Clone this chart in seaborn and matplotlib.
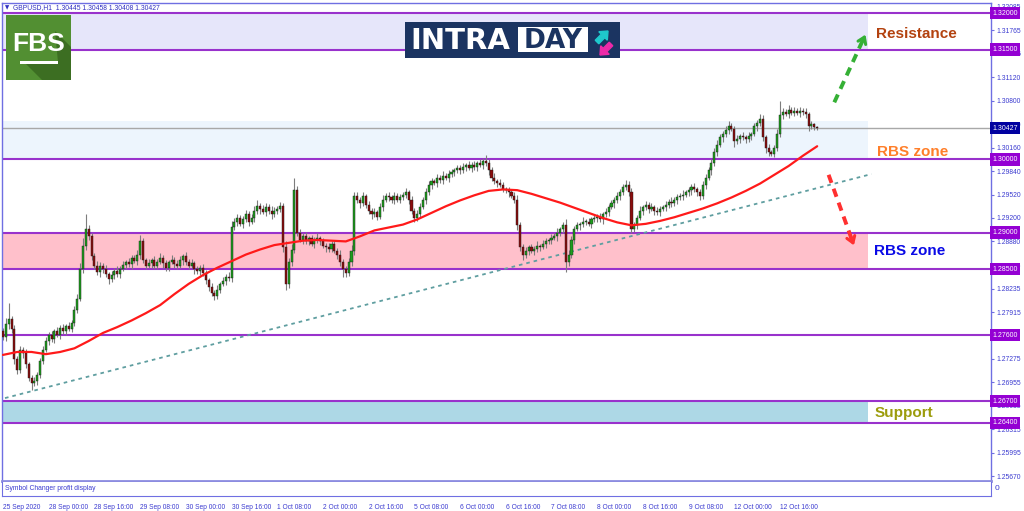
import matplotlib
matplotlib.use("Agg")
import matplotlib.pyplot as plt
import matplotlib.transforms as mtransforms
from matplotlib.patches import Rectangle, Polygon, FancyArrow
import numpy as np
import seaborn as sns

# ---- data (prices in pips, 1 pip = 0.0001) ----
first_open = 12765
close_pips = [
    12757, 12775, 12782, 12768, 12728, 12712, 12740, 12735, 12720, 12702,
    12695, 12698, 12706, 12725, 12740, 12752, 12760, 12755, 12765, 12760,
    12770, 12766, 12772, 12769, 12776, 12795, 12810, 12850, 12882, 12905,
    12895, 12868, 12855, 12846, 12855, 12850, 12843, 12836, 12842, 12848,
    12844, 12850, 12856, 12860, 12857, 12865, 12861, 12870, 12888, 12862,
    12855, 12858, 12863, 12855, 12860, 12866, 12858, 12852, 12860, 12863,
    12857, 12855, 12862, 12868, 12860, 12855, 12858, 12850, 12847, 12852,
    12845, 12835, 12826, 12818, 12814, 12822, 12830, 12834, 12840, 12838,
    12908, 12915, 12920, 12912, 12918, 12925, 12915, 12920, 12930, 12936,
    12932, 12928, 12935, 12930, 12925, 12930, 12932, 12936, 12880, 12830,
    12860, 12876, 12958, 12900, 12890, 12895, 12888, 12892, 12885, 12890,
    12893, 12888, 12882, 12880, 12878, 12885, 12875, 12870, 12860, 12850,
    12845, 12860, 12875, 12950, 12945, 12940, 12950, 12938, 12930, 12925,
    12928, 12922, 12935, 12945, 12950, 12948, 12945, 12950, 12945, 12948,
    12952, 12955, 12945, 12930, 12920, 12925, 12935, 12945, 12955, 12965,
    12970, 12968, 12975, 12972, 12978, 12975, 12980, 12983, 12985, 12988,
    12985, 12990, 12992, 12988, 12993, 12990, 12995, 12992, 12998, 12995,
    12985, 12975, 12970, 12968, 12965, 12960, 12958, 12955, 12950, 12945,
    12910, 12880, 12870, 12875, 12880, 12875, 12878, 12882, 12880, 12885,
    12888, 12890, 12893, 12895, 12900, 12905, 12910, 12860, 12870, 12890,
    12905, 12910, 12912, 12915, 12915, 12912, 12918, 12920, 12922, 12918,
    12925, 12928, 12935, 12940, 12945, 12950, 12955, 12962, 12965, 12955,
    12905, 12910, 12920, 12930, 12935, 12938, 12932, 12935, 12930, 12928,
    12932, 12935, 12938, 12942, 12940, 12945, 12948, 12950, 12952, 12955,
    12958, 12962, 12960, 12955, 12950, 12965, 12975, 12985, 12995, 13010,
    13020, 13030, 13035, 13040, 13045, 13042, 13025, 13028, 13032, 13030,
    13028, 13032, 13035, 13045, 13050, 13055, 13030, 13015, 13010, 13008,
    13015, 13035, 13060, 13065, 13062, 13068, 13064, 13066, 13063, 13066,
    13065, 13062, 13045, 13048, 13044.5, 13042.7,
]
upper_wick = [
    5, 8, 22, 4, 6, 3, 5, 4, 6, 3, 4, 5, 3, 4, 5, 6, 4, 5, 3, 6,
    4, 5, 3, 6, 4, 5, 6, 8, 10, 20, 6, 5, 4, 6, 5, 4, 6, 3, 5, 4,
    6, 4, 5, 3, 6, 4, 5, 6, 9, 5, 4, 6, 3, 5, 4, 6, 4, 5, 3, 6,
    4, 5, 6, 3, 5, 4, 6, 3, 5, 4, 5, 4, 3, 5, 4, 6, 3, 5, 4, 6,
    8, 5, 6, 4, 5, 6, 4, 5, 6, 8, 4, 6, 5, 4, 6, 5, 4, 6, 5, 8,
    6, 8, 17, 6, 5, 4, 6, 3, 5, 4, 6, 3, 5, 4, 6, 3, 5, 4, 6, 4,
    5, 6, 8, 6, 5, 4, 6, 3, 5, 4, 6, 3, 5, 6, 4, 5, 3, 6, 4, 5,
    4, 6, 3, 5, 4, 6, 5, 4, 6, 5, 4, 3, 5, 4, 6, 3, 5, 4, 3, 5,
    4, 5, 3, 6, 4, 5, 3, 6, 4, 8, 5, 4, 6, 3, 5, 4, 3, 5, 4, 6,
    6, 5, 4, 6, 3, 5, 4, 6, 3, 5, 4, 3, 5, 4, 6, 3, 5, 8, 6, 5,
    4, 5, 3, 6, 4, 5, 3, 6, 4, 5, 3, 6, 4, 5, 3, 6, 4, 5, 7, 5,
    6, 5, 4, 6, 3, 5, 4, 6, 3, 5, 4, 3, 5, 4, 6, 3, 5, 4, 6, 3,
    5, 4, 6, 3, 5, 6, 5, 4, 6, 5, 6, 5, 4, 6, 8, 5, 4, 6, 3, 5,
    4, 6, 3, 5, 4, 7, 5, 4, 6, 3, 5, 6, 20, 5, 4, 6, 3, 5, 4, 6,
    4, 5, 3, 4, 2, 1.3,
]
lower_wick = [
    4, 5, 6, 5, 7, 5, 4, 6, 5, 4, 10, 5, 6, 4, 5, 3, 5, 4, 6, 3,
    5, 4, 6, 3, 5, 4, 5, 4, 5, 6, 5, 6, 5, 4, 6, 5, 4, 6, 3, 5,
    4, 6, 3, 5, 4, 6, 3, 5, 6, 4, 5, 3, 6, 4, 5, 3, 6, 4, 5, 3,
    5, 4, 3, 6, 4, 5, 3, 6, 4, 5, 4, 5, 6, 4, 6, 5, 4, 3, 5, 4,
    5, 4, 6, 3, 5, 4, 6, 3, 5, 4, 6, 3, 5, 4, 6, 3, 5, 4, 6, 8,
    5, 6, 4, 5, 3, 6, 4, 5, 3, 6, 4, 5, 3, 6, 4, 5, 3, 6, 5, 10,
    5, 4, 6, 5, 4, 6, 3, 5, 4, 6, 3, 5, 4, 6, 3, 5, 4, 6, 3, 5,
    4, 5, 6, 5, 6, 4, 5, 3, 6, 4, 5, 3, 6, 4, 5, 3, 6, 4, 5, 3,
    5, 4, 6, 3, 5, 4, 6, 3, 5, 4, 6, 5, 4, 6, 3, 5, 4, 6, 3, 5,
    6, 5, 8, 4, 5, 3, 6, 4, 5, 3, 6, 4, 5, 3, 6, 4, 5, 14, 5, 4,
    5, 3, 6, 4, 5, 3, 6, 4, 5, 3, 6, 4, 5, 3, 6, 4, 5, 3, 4, 5,
    6, 4, 5, 3, 6, 4, 5, 3, 6, 4, 5, 3, 6, 4, 5, 3, 6, 4, 5, 3,
    5, 6, 4, 5, 6, 4, 5, 3, 6, 4, 5, 3, 6, 4, 5, 3, 8, 4, 5, 3,
    6, 4, 5, 3, 6, 4, 5, 6, 5, 4, 5, 3, 4, 5, 3, 6, 4, 5, 3, 5,
    4, 5, 6, 3, 4, 1.9,
]

# moving average every 5 bars
ma_bar = [0, 5, 10, 15, 20, 25, 30, 35, 40, 45, 50, 55, 60, 65, 70, 75, 80,
          85, 90, 95, 100, 105, 110, 115, 120, 125, 130, 135, 140, 145, 150,
          155, 160, 165, 170, 175, 180, 185, 190, 195, 200, 205, 210, 215,
          220, 225, 230, 235, 240, 245, 250, 255, 260, 265, 270, 275, 280, 285]
ma_pips = [12733, 12737, 12737, 12734, 12737, 12742, 12752, 12763, 12771, 12780,
           12790, 12801, 12816, 12830, 12842, 12852, 12861, 12870, 12877, 12883,
           12886, 12889, 12890, 12889, 12888, 12895, 12903, 12907, 12911, 12918,
           12927, 12936, 12944, 12951, 12957, 12959, 12958, 12953, 12947, 12941,
           12934, 12927, 12920, 12914, 12910, 12912, 12916, 12921, 12927, 12933,
           12940, 12948, 12957, 12967, 12979, 12991, 13005, 13018]

trend_bar = [0.7, 304]
trend_price = [1.2674, 1.2980]

level_prices = [1.32000, 1.31500, 1.30000, 1.29000, 1.28500, 1.27600, 1.26700, 1.26400]
zone_low = [1.3150, 1.3000, 1.2850, 1.2640]
zone_high = [1.3200, 1.3052, 1.2900, 1.2670]
zone_colors = ["#e6e6fa", "#edf5fd", "#ffc0cb", "#add8e6"]
current_price = 1.30427

axis_ticks = [1.32085, 1.31765, 1.31445, 1.31120, 1.30800, 1.30480, 1.30160,
              1.29840, 1.29520, 1.29200, 1.28880, 1.28555, 1.28235, 1.27915,
              1.27275, 1.26955, 1.26635, 1.26315, 1.25995, 1.25670]
date_labels = ["25 Sep 2020", "28 Sep 00:00", "28 Sep 16:00", "29 Sep 08:00",
               "30 Sep 00:00", "30 Sep 16:00", "1 Oct 08:00", "2 Oct 00:00",
               "2 Oct 16:00", "5 Oct 08:00", "6 Oct 00:00", "6 Oct 16:00",
               "7 Oct 08:00", "8 Oct 00:00", "8 Oct 16:00", "9 Oct 08:00",
               "12 Oct 00:00", "12 Oct 16:00"]
date_bar = [16 * i for i in range(len(date_labels))]

# ---- build OHLC ----
close = np.array(close_pips) / 1e4
open_ = np.concatenate([[first_open / 1e4], close[:-1]])
high = np.maximum(open_, close) + np.array(upper_wick) / 1e4
low = np.minimum(open_, close) - np.array(lower_wick) / 1e4
bars = np.arange(len(close))

sns.set_style("white")
plt.rcParams["font.family"] = ["Liberation Sans", "DejaVu Sans"]

W, H = 1024, 511
fig = plt.figure(figsize=(W / 100, H / 100), dpi=100)


def fig_rect(x0, y0, x1, y1):
    return [x0 / W, 1 - y1 / H, (x1 - x0) / W, (y1 - y0) / H]


ax = fig.add_axes(fig_rect(2, 3, 991, 481))
XMIN, XMAX = -0.35, 345.85
ax.set_xlim(XMIN, XMAX)
ax.set_ylim(1.256075, 1.321366)

frame = "#6f6fe2"
txt_blue = "#3b3bd0"
for s in ax.spines.values():
    s.set_color(frame)
    s.set_linewidth(1)
ax.spines["bottom"].set_linewidth(2)
ax.spines["bottom"].set_color("#8c8ce0")

# zones and levels
for lo, hi, col in zip(zone_low, zone_high, zone_colors):
    ax.fill_between([XMIN, 302.8], lo, hi, color=col, lw=0, zorder=0)
ax.axhline(current_price, color="#a8a8a8", lw=1, zorder=1)
for p in level_prices:
    ax.axhline(p, color="#9932cc", lw=1.5, zorder=2)

ax.plot(trend_bar, trend_price, color="#5f9ea0", lw=1.3, ls=(0, (2, 2.2)), zorder=2)

# candles
bull = close >= open_
ax.vlines(bars, low, high, color="#7d7d7d", lw=0.8, zorder=3)
body = np.maximum(np.abs(close - open_), 0.00004)
ax.bar(bars, body, bottom=np.minimum(open_, close), width=0.72,
       color=np.where(bull, "#1d9e1d", "#8b0d0d"), edgecolor="#1a1a1a",
       linewidth=0.3, zorder=4)

sns.lineplot(x=ma_bar, y=np.array(ma_pips) / 1e4, ax=ax, color="#ff1a1a",
             linewidth=1.6, zorder=5, legend=False)

# arrows
ax.plot([291, 301], [1.3078, 1.3163], color="#35b035", lw=2.8, ls=(0, (2.2, 1.6)),
        zorder=6, solid_capstyle="butt")
ax.annotate("", xy=(302.3, 1.3174), xytext=(300.5, 1.3158),
            arrowprops=dict(arrowstyle="->,head_length=0.45,head_width=0.3",
                            color="#35b035", lw=2.2), zorder=6)
ax.plot([289, 297], [1.2979, 1.2892], color="#ff3030", lw=2.8, ls=(0, (2.2, 1.6)),
        zorder=6, solid_capstyle="butt")
ax.annotate("", xy=(298.2, 1.2879), xytext=(296.5, 1.2897),
            arrowprops=dict(arrowstyle="->,head_length=0.45,head_width=0.3",
                            color="#ff3030", lw=2.2), zorder=6)

# labels
lab = dict(fontsize=11, fontweight="bold", va="center", ha="left", zorder=7)
ax.text(305.6, 1.31713, "Resistance", color="#b3420f", **lab)
ax.text(305.9, 1.30101, "RBS zone", color="#ff7f2a", **lab)
ax.text(304.9, 1.28749, "RBS zone", color="#0a0ae6", **lab)
ax.text(305.2, 1.26536, "Support", color="#9c9c0c", **lab)

# right price axis
ax.set_xticks([])
ax.yaxis.tick_right()
ax.set_yticks(axis_ticks)
ax.set_yticklabels([f"{v:.5f}" for v in axis_ticks])
ax.tick_params(axis="y", labelsize=4.9, labelcolor=txt_blue, color=frame,
               length=2.5, pad=1.5, direction="out")

trans = mtransforms.blended_transform_factory(ax.transAxes, ax.transData)
for p in level_prices:
    ax.text(1.0013, p, f"{p:.5f}", transform=trans, fontsize=5, color="white",
            va="center", ha="left", clip_on=False, zorder=10,
            bbox=dict(boxstyle="square,pad=0.38", fc="#9400d3", ec="none"))
ax.text(1.0013, current_price, f"{current_price:.5f}", transform=trans, fontsize=5,
        color="white", va="center", ha="left", clip_on=False, zorder=10,
        bbox=dict(boxstyle="square,pad=0.38", fc="#0000a0", ec="none"))

# sub window + time axis
sub = fig.add_axes(fig_rect(2, 482, 991, 496))
sub.set_xlim(XMIN, XMAX)
sub.set_yticks([])
for s in sub.spines.values():
    s.set_color(frame)
sub.spines["top"].set_visible(False)
sub.set_xticks(date_bar)
sub.set_xticklabels(date_labels, ha="left")
sub.tick_params(axis="x", labelsize=4.8, labelcolor=txt_blue, color=frame,
                length=3, pad=2.5, direction="out")
sub.text(0.003, 0.5, "Symbol Changer profit display", transform=sub.transAxes,
         fontsize=4.9, color=txt_blue, va="center")
sub.text(1.004, 0.5, "0", transform=sub.transAxes, fontsize=6, color=txt_blue,
         va="center", clip_on=False)

# overlay in pixel coordinates for logos and header
ov = fig.add_axes([0, 0, 1, 1], zorder=20)
ov.set_xlim(0, W)
ov.set_ylim(H, 0)
ov.axis("off")
ov.patch.set_alpha(0)

ov.text(5, 7.5, "\u25bc", fontsize=4, color="#2f2fc0", va="center",
        family="DejaVu Sans")
ov.text(13, 7.5, "GBPUSD,H1  1.30445 1.30458 1.30408 1.30427", fontsize=4.9,
        color="#2f2fc0", va="center")

# FBS logo
ov.add_patch(Rectangle((6, 15), 65, 65, fc="#528f32", ec="none"))
ov.add_patch(Polygon([(55, 31), (71, 47), (71, 80), (42, 80), (24, 62), (58, 62)],
                     fc="#3c6e22", ec="none"))
ov.text(38.5, 44, "FBS", fontsize=19, fontweight="bold", color="white",
        ha="center", va="center",
        family=["Liberation Sans Narrow", "Liberation Sans", "DejaVu Sans"])
ov.add_patch(Rectangle((20, 61), 38, 3.5, fc="white", ec="none"))

# INTRADAY logo
ov.add_patch(Rectangle((405, 22), 215, 36, fc="#1b3461", ec="none"))
ov.text(410, 41, "INTRA", fontsize=21, fontweight="bold", color="white",
        ha="left", va="center", family="DejaVu Sans")
ov.add_patch(Rectangle((518, 27), 70, 25, fc="white", ec="none"))
ov.text(553, 40.5, "DAY", fontsize=19, fontweight="bold", color="#1b3461",
        ha="center", va="center", family="DejaVu Sans")
ov.add_patch(FancyArrow(597, 42, 11, -11, width=5, head_width=12, head_length=7,
                        length_includes_head=True, color="#1fc8cc"))
ov.add_patch(FancyArrow(611, 44, -11, 11, width=5, head_width=12, head_length=7,
                        length_includes_head=True, color="#ee2aa8"))

fig.savefig("out.png", dpi=100)
plt.close(fig)
